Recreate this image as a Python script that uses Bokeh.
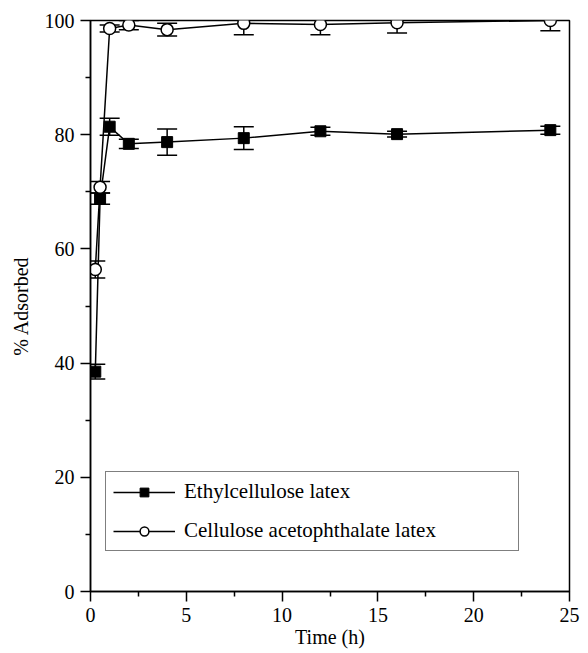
from bokeh.plotting import figure
from bokeh.models import (ColumnDataSource, Whisker, TeeHead, Legend, LegendItem,
                          FixedTicker, Range1d)
from bokeh.embed import file_html
from bokeh.resources import INLINE

# ---- data ----
time_h = [0.25, 0.5, 1, 2, 4, 8, 12, 16, 24]
ethyl = [38.5, 68.8, 81.4, 78.4, 78.7, 79.4, 80.6, 80.1, 80.8]
ethyl_err = [1.3, 1.0, 1.5, 0.8, 2.3, 2.0, 0.7, 0.5, 0.7]
cap = [56.4, 70.8, 98.6, 99.2, 98.4, 99.5, 99.3, 99.6, 100.0]
cap_err = [1.5, 1.0, 0.6, 0.8, 1.1, 2.0, 1.8, 1.8, 1.8]
x_ticks = [0, 5, 10, 15, 20, 25]
y_ticks = [0, 20, 40, 60, 80, 100]
series_names = ["Ethylcellulose latex", "Cellulose acetophthalate latex"]

FONT = "Liberation Serif"

src_e = ColumnDataSource(dict(x=time_h, y=ethyl,
                              lo=[v - e for v, e in zip(ethyl, ethyl_err)],
                              hi=[v + e for v, e in zip(ethyl, ethyl_err)]))
src_c = ColumnDataSource(dict(x=time_h, y=cap,
                              lo=[v - e for v, e in zip(cap, cap_err)],
                              hi=[v + e for v, e in zip(cap, cap_err)]))

p = figure(width=588, height=653, output_backend="svg", toolbar_location=None,
           x_range=Range1d(0, 25), y_range=Range1d(0, 100),
           min_border_left=90, min_border_right=19, min_border_top=20,
           min_border_bottom=62)
p.grid.visible = False
p.outline_line_color = "black"
p.outline_line_width = 1.5
p.background_fill_color = "white"
p.border_fill_color = "white"

for ax in (p.xaxis[0], p.yaxis[0]):
    ax.axis_line_color = "black"
    ax.axis_line_width = 1.5
    ax.major_tick_line_color = "black"
    ax.major_tick_line_width = 1.5
    ax.minor_tick_line_color = "black"
    ax.minor_tick_line_width = 1.5
    ax.major_tick_in = 0
    ax.major_tick_out = 10
    ax.minor_tick_in = 0
    ax.minor_tick_out = 5
    ax.major_label_text_font = FONT
    ax.major_label_text_font_size = "20px"
    ax.major_label_text_color = "black"
    ax.axis_label_text_font = FONT
    ax.axis_label_text_font_size = "20px"
    ax.axis_label_text_font_style = "normal"
    ax.axis_label_text_color = "black"

p.xaxis.ticker = FixedTicker(ticks=x_ticks, minor_ticks=[2.5 + 5 * i for i in range(5)])
p.yaxis.ticker = FixedTicker(ticks=y_ticks, minor_ticks=[10 + 20 * i for i in range(5)])
p.xaxis.axis_label = "Time (h)"
p.yaxis.axis_label = "% Adsorbed"
p.xaxis.major_label_standoff = 6
p.yaxis.major_label_standoff = 6
p.xaxis.axis_label_standoff = 1
p.yaxis.axis_label_standoff = 10

# error bars
for src in (src_e, src_c):
    w = Whisker(source=src, base="x", upper="hi", lower="lo",
                line_color="black", line_width=1.5,
                upper_head=TeeHead(size=20, line_color="black", line_width=1.5),
                lower_head=TeeHead(size=20, line_color="black", line_width=1.5))
    p.add_layout(w)

le = p.line("x", "y", source=src_e, line_color="black", line_width=1.5)
lc = p.line("x", "y", source=src_c, line_color="black", line_width=1.5)
me = p.scatter("x", "y", source=src_e, marker="square", size=11,
               fill_color="black", line_color="black")
mc = p.scatter("x", "y", source=src_c, marker="circle", size=12,
               fill_color="white", line_color="black", line_width=1.5)

legend = Legend(items=[LegendItem(label=series_names[0], renderers=[le, me]),
                       LegendItem(label=series_names[1], renderers=[lc, mc])],
                location=(15, 40), orientation="vertical",
                border_line_color="black", border_line_width=1.5,
                background_fill_alpha=1.0, margin=0, padding=7, spacing=14,
                glyph_width=62, glyph_height=22, label_height=22,
                label_width=327, label_standoff=9,
                label_text_font=FONT, label_text_font_size="21px",
                label_text_color="black")
p.add_layout(legend, "center")

open("out.html", "w").write(file_html(p, INLINE))
